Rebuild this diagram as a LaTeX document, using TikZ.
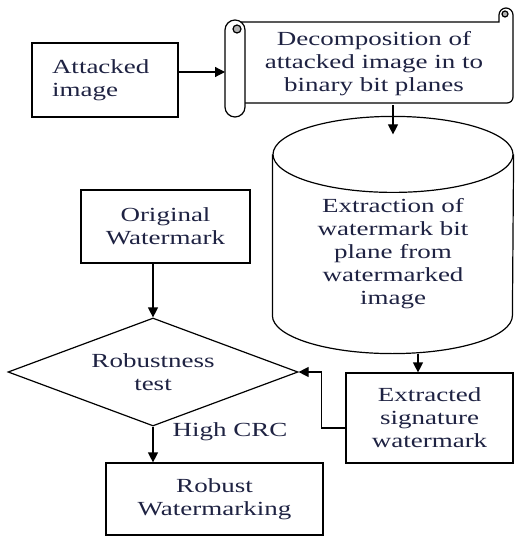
\documentclass[tikz,border=0pt]{standalone}
\usepackage{fontspec}
\setmainfont{Liberation Serif}[FakeStretch=1.35]
\usepackage{xcolor}
\usetikzlibrary{shapes.geometric, arrows.meta, positioning}
\definecolor{txt}{RGB}{30,34,66}

\begin{document}
\begin{tikzpicture}[x=1pt, y=-1pt, line width=1.2pt,
    every node/.style={font=\fontsize{20}{23}\selectfont, text=txt, align=center, inner sep=0pt},
    box/.style={draw, rectangle},
    arr/.style={-{Triangle[length=10pt,width=10pt]}}]
    \useasboundingbox (0,0) rectangle (515,537);

    \node[box, minimum width=146pt, minimum height=74pt, text width=106pt, align=left] (attacked) at (105,80) {Attacked\\image};
    \node[minimum width=258pt, minimum height=81pt] (decomp) at (374,64) {Decomposition of\\attacked image in to\\binary bit planes};
    \node[minimum width=240pt, minimum height=198pt] (extract) at (393,254) {Extraction of\\watermark bit\\plane from\\watermarked\\image};
    \node[box, minimum width=169pt, minimum height=73pt] (original) at (165.5,226.5) {Original\\Watermark};
    \node[draw, diamond, aspect=2.7, minimum width=290pt, minimum height=108pt] (test) at (153,372) {Robustness\\test};
    \node[box, minimum width=167pt, minimum height=90pt] (signature) at (429.5,418) {Extracted\\signature\\watermark};
    \node[box, minimum width=217pt, minimum height=72pt] (robust) at (214.5,499) {Robust\\Watermarking};
    \node (crc) at (230,432) {High CRC};
    \coordinate (roll) at (225,72);

    % scroll
    \draw (245,103) -- (507,103) arc[start angle=-90, end angle=0, radius=6pt] -- (513,15)
        arc[start angle=0, end angle=180, radius=7pt] -- (499,22) -- (235,22);
    \draw[fill=gray!60] (505,14) circle[radius=3pt];
    \draw[fill=white] (225,30) -- (225,107) arc[start angle=180, end angle=360, radius=10pt] -- (245,30)
        arc[start angle=0, end angle=180, radius=10pt];
    \draw[fill=gray!60] (237,29) circle[radius=4pt];

    % cylinder
    \draw (extract.north west) -- ([yshift=38pt]extract.south west)
        arc[start angle=180, end angle=360, x radius=120pt, y radius=38pt] -- (extract.north east);
    \draw (extract.north) ellipse[x radius=120pt, y radius=38pt];

    \draw[arr] ([yshift=8pt]attacked.east) -- ([yshift=8pt]attacked.east -| roll);
    \draw[arr] (decomp.south -| extract.north) -- ([yshift=20pt]extract.north);
    \draw[arr] ([xshift=25pt]extract.south) -- ([xshift=25pt]extract.south |- signature.north);
    \draw[arr] ([yshift=-10pt]signature.west) -- ++(-24,0) |- (test.east);
    \draw[arr] (original.south -| test.north) -- (test.north);
    \draw[arr] (test.south) -- (test.south |- robust.north);
\end{tikzpicture}
\end{document}
